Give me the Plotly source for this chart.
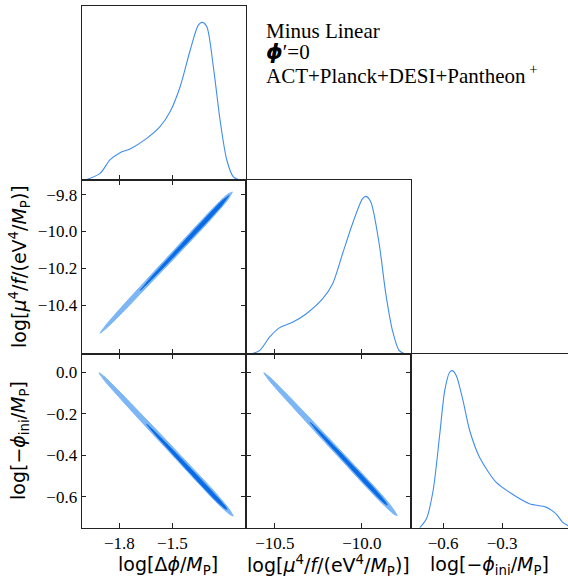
import plotly.graph_objects as go

# ---------------- data ----------------
# 1D marginals (normalised to peak = 1)
dphi_x = [-1.994, -1.909, -1.853, -1.796, -1.739, -1.645, -1.570, -1.513, -1.456,
          -1.400, -1.353, -1.330, -1.305, -1.268, -1.230, -1.192, -1.155, -1.117]
dphi_p = [0.0, 0.042, 0.127, 0.173, 0.197, 0.264, 0.338, 0.433, 0.592,
          0.82, 0.983, 1.0, 0.972, 0.718, 0.38, 0.127, 0.02, 0.0]

mu_x = [-10.643, -10.586, -10.529, -10.472, -10.396, -10.319, -10.225, -10.168, -10.111,
        -10.054, -9.997, -9.977, -9.949, -9.901, -9.863, -9.825, -9.787, -9.749]
mu_p = [0.0, 0.025, 0.11, 0.169, 0.204, 0.257, 0.352, 0.447, 0.637,
        0.827, 0.985, 1.0, 0.965, 0.70, 0.384, 0.152, 0.025, 0.0]

phi_x = [-0.719, -0.685, -0.651, -0.617, -0.592, -0.567, -0.553, -0.533, -0.499,
         -0.465, -0.415, -0.331, -0.263, -0.161, -0.077, -0.027, 0.007, 0.048]
phi_p = [0.0, 0.057, 0.237, 0.598, 0.873, 0.99, 1.0, 0.968, 0.809,
         0.619, 0.449, 0.29, 0.226, 0.153, 0.131, 0.089, 0.036, 0.004]

# 2D contours: ridge line (x, y centre) and vertical half-width
# dphi vs mu
a_out_x = [-1.909, -1.880, -1.824, -1.739, -1.626, -1.513, -1.400, -1.287, -1.219, -1.185, -1.160]
a_out_c = [-10.552, -10.522, -10.465, -10.378, -10.262, -10.147, -10.031, -9.915, -9.845, -9.811, -9.785]
a_out_h = [0.0, 0.009, 0.015, 0.019, 0.021, 0.023, 0.025, 0.025, 0.021, 0.015, 0.0]
a_in_x = [-1.682, -1.626, -1.513, -1.400, -1.287, -1.219, -1.179]
a_in_c = [-10.320, -10.262, -10.147, -10.031, -9.915, -9.845, -9.804]
a_in_h = [0.0, 0.007, 0.011, 0.014, 0.015, 0.012, 0.0]

# dphi vs phi_ini
b_out_x = [-1.915, -1.881, -1.796, -1.683, -1.570, -1.457, -1.343, -1.258, -1.202, -1.173, -1.155]
b_out_c = [-0.002, -0.033, -0.110, -0.213, -0.315, -0.418, -0.522, -0.599, -0.650, -0.676, -0.693]
b_out_h = [0.0, 0.010, 0.015, 0.018, 0.020, 0.021, 0.022, 0.021, 0.016, 0.010, 0.0]
b_in_x = [-1.645, -1.60, -1.50, -1.40, -1.30, -1.24, -1.20, -1.19]
b_in_c = [-0.250, -0.291, -0.382, -0.473, -0.564, -0.618, -0.652, -0.660]
b_in_h = [0.0, 0.006, 0.010, 0.012, 0.013, 0.011, 0.006, 0.0]

# mu vs phi_ini
c_out_x = [-10.563, -10.529, -10.444, -10.329, -10.215, -10.101, -9.987, -9.901, -9.844, -9.816, -9.797]
c_out_c = [-0.002, -0.033, -0.109, -0.212, -0.315, -0.417, -0.520, -0.597, -0.648, -0.674, -0.691]
c_out_h = [0.0, 0.010, 0.015, 0.018, 0.020, 0.021, 0.022, 0.021, 0.016, 0.010, 0.0]
c_in_x = [-10.297, -10.257, -10.165, -10.065, -9.966, -9.904, -9.866, -9.854]
c_in_c = [-0.241, -0.278, -0.360, -0.450, -0.539, -0.595, -0.629, -0.640]
c_in_h = [0.0, 0.006, 0.010, 0.012, 0.013, 0.011, 0.006, 0.0]

# axis ranges and ticks
dphi_range = [-2.014, -1.085]
mu_range = [-10.667, -9.72]
phi_range_y = [-0.749, 0.087]
phi_range_x = [-0.765, 0.035]
dphi_ticks = [-1.8, -1.5]
mu_xticks = [-10.5, -10.0]
mu_yticks = [-9.8, -10.0, -10.2, -10.4]
phi_yticks = [0.0, -0.2, -0.4, -0.6]
phi_xticks = [-0.6, -0.3]

DARK = "#0A6BE6"
LIGHT = "#7DB6F5"
LINE1D = "#3F8DEE"

fig = go.Figure()


def band(x, c, h):
    up = [ci + hi for ci, hi in zip(c, h)]
    lo = [ci - hi for ci, hi in zip(c, h)]
    return list(x) + list(x)[::-1], up + lo[::-1]


def add2d(xa, ya, ox, oc, oh, ix, ic, ih):
    px, py = band(ox, oc, oh)
    fig.add_trace(go.Scatter(x=px, y=py, xaxis=xa, yaxis=ya, fill="toself", mode="lines",
                             line=dict(color=LIGHT, width=1, shape="spline", smoothing=0.6),
                             fillcolor=LIGHT, hoverinfo="skip", showlegend=False))
    px, py = band(ix, ic, ih)
    fig.add_trace(go.Scatter(x=px, y=py, xaxis=xa, yaxis=ya, fill="toself", mode="lines",
                             line=dict(color=DARK, width=0.8, shape="spline", smoothing=0.6),
                             fillcolor=DARK, hoverinfo="skip", showlegend=False))


def add1d(xa, ya, x, p):
    fig.add_trace(go.Scatter(x=x, y=p, xaxis=xa, yaxis=ya, mode="lines",
                             line=dict(color=LINE1D, width=1.1, shape="spline", smoothing=0.8),
                             hoverinfo="skip", showlegend=False))


add1d("x", "y", dphi_x, dphi_p)
add2d("x2", "y2", a_out_x, a_out_c, a_out_h, a_in_x, a_in_c, a_in_h)
add1d("x3", "y3", mu_x, mu_p)
add2d("x4", "y4", b_out_x, b_out_c, b_out_h, b_in_x, b_in_c, b_in_h)
add2d("x5", "y5", c_out_x, c_out_c, c_out_h, c_in_x, c_in_c, c_in_h)
add1d("x6", "y6", phi_x, phi_p)

W, H = 568, 576
c1 = [81.5 / W, 245.7 / W]
c2 = [245.7 / W, 410.7 / W]
c3 = [410.7 / W, 1.0]
r1 = [1 - 180 / H, 1 - 6 / H]
r2 = [1 - 354.3 / H, 1 - 180 / H]
r3 = [1 - 527.7 / H, 1 - 354.3 / H]

TICKFONT = dict(family="Liberation Serif", size=17, color="black")
base = dict(showline=True, linecolor="#222222", linewidth=0.8, ticks="inside", ticklen=5,
            tickcolor="#222222", tickwidth=1, showgrid=False, zeroline=False,
            tickfont=TICKFONT, fixedrange=True)


def ax(**kw):
    d = dict(base)
    d.update(kw)
    return d


ymax1d = [0, 1.104]

fig.update_layout(
    width=W, height=H, margin=dict(l=0, r=0, t=0, b=0),
    paper_bgcolor="white", plot_bgcolor="white",
    # row1 col1 (1D dphi)
    xaxis=ax(domain=c1, anchor="y", range=dphi_range, tickvals=dphi_ticks,
             showticklabels=False, mirror=True),
    yaxis=ax(domain=r1, anchor="x", range=ymax1d, ticks="", showticklabels=False, mirror=True),
    # row2 col1 (dphi vs mu)
    xaxis2=ax(domain=c1, anchor="y2", range=dphi_range, tickvals=dphi_ticks,
              showticklabels=False, mirror="ticks"),
    yaxis2=ax(domain=r2, anchor="x2", range=mu_range, tickvals=mu_yticks,
              tickformat=".1f", mirror="ticks"),
    # row2 col2 (1D mu)
    xaxis3=ax(domain=c2, anchor="y3", range=mu_range, tickvals=mu_xticks,
              showticklabels=False, mirror=True),
    yaxis3=ax(domain=r2, anchor="x3", range=ymax1d, ticks="", showticklabels=False, mirror=True),
    # row3 col1 (dphi vs phi)
    xaxis4=ax(domain=c1, anchor="y4", range=dphi_range, tickvals=dphi_ticks,
              tickformat=".1f", mirror="ticks"),
    yaxis4=ax(domain=r3, anchor="x4", range=phi_range_y, tickvals=phi_yticks,
              tickformat=".1f", mirror="ticks"),
    # row3 col2 (mu vs phi)
    xaxis5=ax(domain=c2, anchor="y5", range=mu_range, tickvals=mu_xticks,
              tickformat=".1f", mirror="ticks"),
    yaxis5=ax(domain=r3, anchor="x5", range=phi_range_y, tickvals=phi_yticks,
              showticklabels=False, mirror="ticks"),
    # row3 col3 (1D phi)
    xaxis6=ax(domain=c3, anchor="y6", range=phi_range_x, tickvals=phi_xticks,
              tickformat=".1f", mirror=True),
    yaxis6=ax(domain=r3, anchor="x6", range=ymax1d, ticks="", showticklabels=False, mirror=False),
)

LABELFONT = dict(family="DejaVu Sans", size=19, color="black")
x_labels = ["log[Δ<i>ϕ</i>/<i>M</i><sub>P</sub>]",
            "log[<i>μ</i><sup>4</sup>/<i>f</i>/(eV<sup>4</sup>/<i>M</i><sub>P</sub>)]",
            "log[−<i>ϕ</i><sub>ini</sub>/<i>M</i><sub>P</sub>]"]
x_centres = [168 / W, 328 / W, 489 / W]
for t, xc in zip(x_labels, x_centres):
    fig.add_annotation(text=t, x=xc, y=1 - 565 / H, xref="paper", yref="paper",
                       showarrow=False, font=LABELFONT, xanchor="center", yanchor="middle")

y_labels = [x_labels[1], x_labels[2]]
y_centres = [1 - 267 / H, 1 - 441 / H]
for t, yc in zip(y_labels, y_centres):
    fig.add_annotation(text=t, x=19 / W, y=yc, xref="paper", yref="paper", textangle=-90,
                       showarrow=False, font=LABELFONT, xanchor="center", yanchor="middle")

TXT = dict(family="Liberation Serif", size=21, color="black")
info = ["Minus Linear",
        '<span style="font-family:DejaVu Sans"><b><i>ϕ</i></b></span>′=0',
        "ACT+Planck+DESI+Pantheon<sup> +</sup>"]
info_y = [31, 52, 74]
for t, yy in zip(info, info_y):
    fig.add_annotation(text=t, x=264 / W, y=1 - yy / H, xref="paper", yref="paper",
                       showarrow=False, font=TXT, xanchor="left", yanchor="middle")

fig.write_html("out.html", config={"displayModeBar": False},
               post_script="document.body.style.margin='0px';document.body.style.overflow='hidden';")
